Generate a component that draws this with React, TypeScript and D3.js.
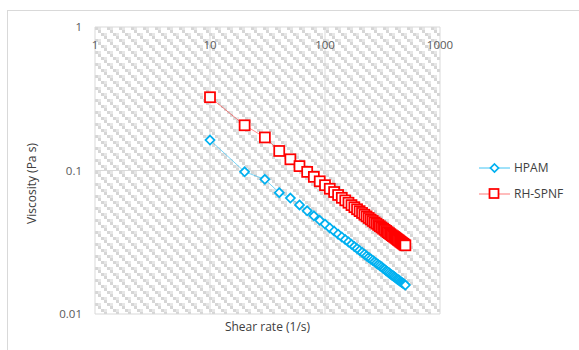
import * as d3 from 'd3'

// shear rate (1/s)
const shearRates = [
  10, 20, 30, 40, 50, 60, 70, 80, 90, 100,
  110, 120, 130, 140, 150, 160, 170, 180, 190, 200,
  210, 220, 230, 240, 250, 260, 270, 280, 290, 300,
  310, 320, 330, 340, 350, 360, 370, 380, 390, 400,
  410, 420, 430, 440, 450, 460, 470, 480, 490, 500,
]

// viscosity (Pa s)
const hpam = [
  0.163, 0.098, 0.0868, 0.070, 0.0643, 0.0575, 0.0524, 0.0483, 0.0450, 0.0423,
  0.0398, 0.0378, 0.0360, 0.0344, 0.0330, 0.0318, 0.0306, 0.0295, 0.0286, 0.0277,
  0.0269, 0.0261, 0.0254, 0.0248, 0.0242, 0.0236, 0.0231, 0.0226, 0.0221, 0.0217,
  0.0213, 0.0208, 0.0205, 0.0200, 0.0197, 0.0194, 0.0190, 0.0187, 0.0185, 0.0182,
  0.0179, 0.0176, 0.0174, 0.0172, 0.0169, 0.0167, 0.0165, 0.0163, 0.0161, 0.0159,
]

const rhSpnf = [
  0.324, 0.2066, 0.170, 0.1368, 0.1197, 0.1073, 0.0978, 0.0903, 0.0841, 0.0790,
  0.0746, 0.0708, 0.0675, 0.0645, 0.0619, 0.0596, 0.0574, 0.0555, 0.0537, 0.0521,
  0.0506, 0.0492, 0.0479, 0.0467, 0.0456, 0.0445, 0.0435, 0.0426, 0.0417, 0.0409,
  0.0401, 0.0393, 0.0386, 0.0379, 0.0372, 0.0366, 0.0360, 0.0354, 0.0349, 0.0344,
  0.0339, 0.0334, 0.0329, 0.0325, 0.0320, 0.0316, 0.0312, 0.0308, 0.0304, 0.0301,
]

const xTicks = [1, 10, 100, 1000]
const yTicks = [0.01, 0.1, 1]

const W = 579
const H = 350
const plot = { left: 95, right: 440, top: 27, bottom: 314 }
const font = '"Open Sans", "Liberation Sans", sans-serif'
const textColor = '#595959'
const gridColor = '#d9d9d9'
const blue = '#00b0f0'
const red = '#ff0000'

export default function App() {
  const x = d3.scaleLog().domain([1, 1000]).range([plot.left, plot.right])
  const y = d3.scaleLog().domain([0.01, 1]).range([plot.bottom, plot.top])

  const line = d3.line<[number, number]>()
    .x(d => x(d[0]))
    .y(d => y(d[1]))

  const blueData = shearRates.map((s, i) => [s, hpam[i]] as [number, number])
  const redData = shearRates.map((s, i) => [s, rhSpnf[i]] as [number, number])

  const diamond = (cx: number, cy: number, r: number) =>
    `M${cx},${cy - r}L${cx + r},${cy}L${cx},${cy + r}L${cx - r},${cy}Z`

  return (
    <svg width={W} height={H} style={{ position: 'absolute', left: 0, top: 0 }}>
      <defs>
        {/* wide downward diagonal hatch */}
        <pattern id="hatch" patternUnits="userSpaceOnUse" width={12} height={12}
          x={plot.left} y={plot.top}>
          <rect width={12} height={12} fill="#ffffff" />
          {[0, 3, 6, 9].map(k => (
            <rect key={k} x={k} y={k} width={3} height={3} fill="#d6d6d6" />
          ))}
          {[0, 6].map(k => (
            <rect key={'b' + k} x={(k + 3) % 12} y={k} width={3} height={3} fill="#e6e6e6" />
          ))}
        </pattern>
      </defs>

      <rect x={0} y={0} width={W} height={H} fill="#fff" />
      {/* chart area border */}
      <rect x={7.5} y={10.5} width={700} height={500} fill="none" stroke={gridColor} />

      {/* plot area */}
      <rect x={plot.left} y={plot.top} width={plot.right - plot.left}
        height={plot.bottom - plot.top} fill="url(#hatch)" />

      {/* gridlines */}
      {xTicks.map(t => (
        <line key={'gx' + t} x1={x(t)} x2={x(t)} y1={plot.top} y2={plot.bottom}
          stroke={gridColor} strokeWidth={1} />
      ))}
      {yTicks.map(t => (
        <line key={'gy' + t} x1={plot.left} x2={plot.right} y1={y(t)} y2={y(t)}
          stroke={gridColor} strokeWidth={1} />
      ))}

      {/* y tick labels */}
      {yTicks.map(t => (
        <text key={'yl' + t} x={82} y={y(t)} dy="0.35em" textAnchor="end"
          fontFamily={font} fontSize={11.5} fill={textColor}>{t}</text>
      ))}
      {/* x tick labels, at the top where the axis crosses */}
      {xTicks.map(t => (
        <text key={'xl' + t} x={x(t)} y={45} dy="0.35em" textAnchor="middle"
          fontFamily={font} fontSize={11.5} fill={textColor}>{t}</text>
      ))}

      {/* series lines */}
      <path d={line(blueData) ?? ''} fill="none" stroke={blue} strokeWidth={0.75} strokeOpacity={0.7} />
      <path d={line(redData) ?? ''} fill="none" stroke={red} strokeWidth={0.75} strokeOpacity={0.6} />

      {/* markers */}
      {blueData.map((d, i) => (
        <path key={'bm' + i} d={diamond(x(d[0]), y(d[1]), 4.5)}
          fill="#fff" stroke={blue} strokeWidth={1.75} />
      ))}
      {redData.map((d, i) => (
        <rect key={'rm' + i} x={x(d[0]) - 5} y={y(d[1]) - 5} width={10} height={10}
          fill="#fff" stroke={red} strokeWidth={1.75} />
      ))}

      {/* axis titles */}
      <text x={(plot.left + plot.right) / 2} y={327} dy="0.35em" textAnchor="middle"
        fontFamily={font} fontSize={12} fill="#404040">Shear rate (1/s)</text>
      <text transform={`translate(32,${(plot.top + plot.bottom) / 2 + 13}) rotate(-90)`}
        dy="0.35em" textAnchor="middle" fontFamily={font} fontSize={12} fill="#404040">
        Viscosity (Pa s)
      </text>

      {/* legend */}
      <line x1={479} x2={510} y1={168} y2={168} stroke={blue} strokeWidth={0.75} />
      <path d={diamond(494.5, 168, 4)} fill="#fff" stroke={blue} strokeWidth={1.75} />
      <text x={514} y={168} dy="0.35em" fontFamily={font} fontSize={12} fill="#404040">HPAM</text>
      <line x1={479} x2={510} y1={194} y2={194} stroke={red} strokeWidth={0.75} strokeOpacity={0.7} />
      <rect x={489.5} y={189} width={9} height={9} fill="#fff" stroke={red} strokeWidth={1.75} />
      <text x={514} y={194} dy="0.35em" fontFamily={font} fontSize={12} fill="#404040">RH-SPNF</text>
    </svg>
  )
}
